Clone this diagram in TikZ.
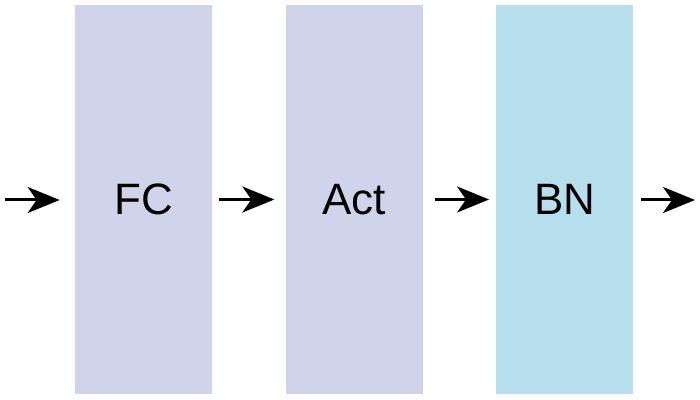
\documentclass[tikz,border=0pt]{standalone}
\usepackage{fontspec}
\setmainfont{Liberation Sans}
\usepackage{xcolor}
\usetikzlibrary{arrows.meta, positioning}
\definecolor{layercolor}{RGB}{208, 212, 235}
\definecolor{normcolor}{RGB}{183, 222, 236}

\begin{document}
\begin{tikzpicture}[
    node distance=1.46cm,
    layer/.style={rectangle, fill=layercolor, minimum width=2.74cm, minimum height=7.78cm, inner sep=0pt, font=\fontsize{25}{30}\selectfont},
    arrow/.style={-{Stealth[length=0.64cm, width=0.52cm, inset=0.18cm]}, line width=0.06cm, color=black}
]
\useasboundingbox (0,0) rectangle (14,8);

\node[layer] (fc) at (2.87,4.01) {FC};
\node[layer, right=of fc] (act) {Act};
\node[layer, fill=normcolor, right=of act] (bn) {BN};

\coordinate (in) at (0.1,4);
\coordinate (out) at (13.9,4);

\draw[arrow, shorten >=0.3cm] (in) -- (fc.west |- in);
\draw[arrow, shorten <=0.14cm, shorten >=0.22cm] (fc) -- (act);
\draw[arrow, shorten <=0.24cm, shorten >=0.14cm] (act) -- (bn);
\draw[arrow, shorten <=0.14cm] (bn.east |- out) -- (out);
\end{tikzpicture}
\end{document}
